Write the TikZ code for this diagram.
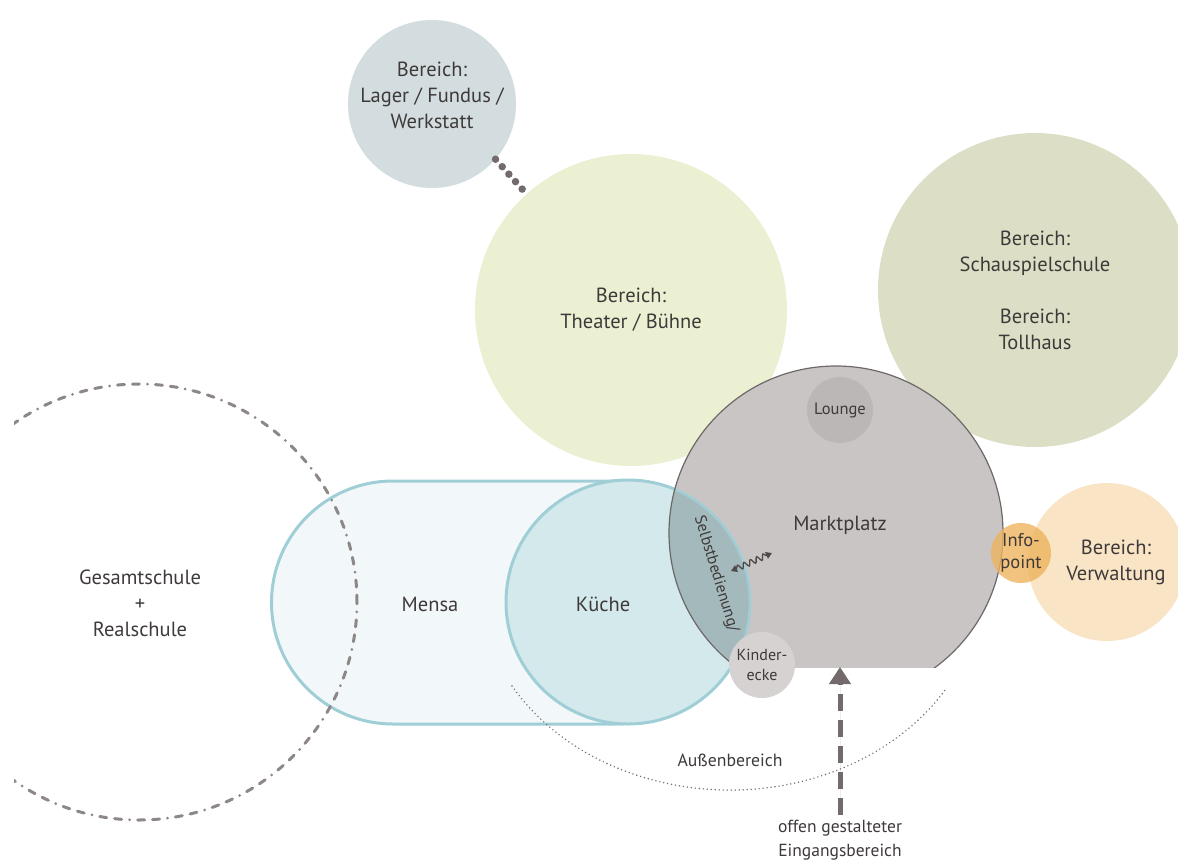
\documentclass[tikz,border=0pt]{standalone}
\usepackage{fontspec}
\setmainfont{PT Sans}
\usetikzlibrary{decorations.pathmorphing,arrows.meta,calc}
\definecolor{txt}{HTML}{3F3A3A}
\definecolor{lagerc}{HTML}{D3DDDF}
\definecolor{theaterc}{HTML}{EBF0D2}
\definecolor{schauc}{HTML}{DCDFC6}
\definecolor{mpc}{HTML}{CAC5C5}
\definecolor{mpline}{HTML}{6E6767}
\definecolor{loungec}{HTML}{BCB7B7}
\definecolor{kinderc}{HTML}{D6D2D2}
\definecolor{mensac}{HTML}{F2F8F9}
\definecolor{tealline}{HTML}{A0CED6}
\definecolor{kuechec}{HTML}{D3E9EC}
\definecolor{lensc}{HTML}{A4B9BC}
\definecolor{dashc}{HTML}{8E8787}
\definecolor{verwc}{HTML}{F9E5C6}
\definecolor{infoc}{HTML}{EDB45E}
\definecolor{arrc}{HTML}{736B6B}
\definecolor{snakec}{HTML}{4F4949}
\tikzset{
  area/.style={circle,inner sep=0pt,align=center,text=txt,font=\fontsize{20.5}{26}\selectfont},
  small/.style={align=center,text=txt,font=\fontsize{16}{20}\selectfont},
  label/.style={align=center,text=txt,font=\fontsize{20.5}{26}\selectfont},
  dotline/.style={draw=arrc,line width=7.5pt,line cap=round,dash pattern=on 0pt off 10pt},
  outerarc/.style={draw=arrc,line width=1.6pt,line cap=round,dash pattern=on 0pt off 4pt},
  dashdot/.style={draw=dashc,line width=3pt,line cap=round,dash pattern=on 7pt off 8pt on 7pt off 8pt on 0pt off 8pt},
  entr/.style={draw=arrc,fill=arrc,line width=5pt,dash pattern=on 17pt off 9pt,-{Triangle[width=21pt,length=17pt]}},
  snakearrow/.style={draw=snakec,line width=1.3pt,{Triangle[length=6pt,width=7pt]}-{Triangle[length=6pt,width=7pt]},
    decorate,decoration={snake,amplitude=2.8pt,segment length=7pt,pre length=6pt,post length=6pt}},
}
\begin{document}
\begin{tikzpicture}[x=1pt,y=-1pt]
\useasboundingbox (0,0) rectangle (1178,862);
\begin{scope}
\clip (0,0) rectangle (1178,862);
% Mensa (stadium)
\draw[tealline,line width=3pt,fill=mensac]
  (393,481) -- (616,481) arc[start angle=90,end angle=-90,radius=121.5pt] -- (393,724)
  arc[start angle=270,end angle=90,radius=121.5pt] -- cycle;
\node[label] (mensa) at (430,604) {Mensa};
% Kueche
\node[area,fill=kuechec,draw=tealline,line width=3pt,minimum size=244pt] (kueche) at (628,602) {};
\node[label] (kuechetext) at (603,604) {Küche};
% Gesamtschule dash-dot circle
\begin{scope}
\clip (14,0) rectangle (1178,862);
\draw[dashdot] (139,602) circle[radius=218pt];
\end{scope}
\node[label] (schule) at (140,603) {Gesamtschule\\+\\Realschule};
% Lager, Theater, Schauspielschule
\node[area,fill=lagerc,minimum size=168pt] (lager) at (432,104) {};
\node[label] (lagertext) at (432,95) {Bereich:\\Lager / Fundus /\\Werkstatt};
\node[area,fill=theaterc,minimum size=312pt] (theater) at (631,310) {Bereich:\\Theater / Bühne};
\node[area,fill=schauc,minimum size=314pt] (schau) at (1035,290) {Bereich:\\Schauspielschule\\[26pt]Bereich:\\Tollhaus};
\draw[dotline] (lager.-41) -- (theater.132);
% Marktplatz
\begin{scope}
\clip (0,0) rectangle (1178,667);
\fill[mpc] (836,533) circle[radius=167pt];
\begin{scope}
\clip (628,602) circle[radius=122pt];
\fill[lensc] (836,533) circle[radius=167pt];
\end{scope}
\begin{scope}
\clip (836,533) circle[radius=167pt];
\draw[tealline,line width=2.5pt] (628,602) circle[radius=122pt];
\end{scope}
\draw[mpline,line width=1.2pt] (836,533) circle[radius=167pt];
\end{scope}
\coordinate (mpb) at (840,667);
\node[label] (markt) at (840,525) {Marktplatz};
\node[area,fill=loungec,minimum size=66pt,font=\fontsize{16.5}{20}\selectfont] (lounge) at (840,410) {Lounge};
\node[area,fill=kinderc,minimum size=66pt,font=\fontsize{16}{20}\selectfont] (kinder) at (762,665) {Kinder-\\ecke};
\node[small,rotate=-73] (selbst) at (716,574) {Selbstbedienung/};
\coordinate (sa) at (731,571);
\coordinate (sb) at (772,553);
\draw[snakearrow] (sa) -- (sb);
% Verwaltung and Infopoint
\node[area,fill=verwc,minimum size=158pt] (verw) at (1107,562) {};
\node[label] (verwtext) at (1116,562) {Bereich:\\Verwaltung};
\node[area,fill=infoc,fill opacity=0.8,text opacity=1,minimum size=60pt,font=\fontsize{18.5}{22}\selectfont] (info) at (1021,553) {Info-\\point};
% Aussenbereich
\draw[outerarc] (512,686) arc[start angle=210.3,end angle=328.4,x radius=252.5pt,y radius=210pt];
\node[label,font=\fontsize{17.7}{24}\selectfont] (aussen) at (730,760) {Außenbereich};
% Eingang
\node[label,font=\fontsize{17.5}{24}\selectfont] (eing) at (840,840) {offen gestalteter\\Eingangsbereich};
\draw[entr] (840,815) -- (mpb);
\end{scope}
\end{tikzpicture}
\end{document}
